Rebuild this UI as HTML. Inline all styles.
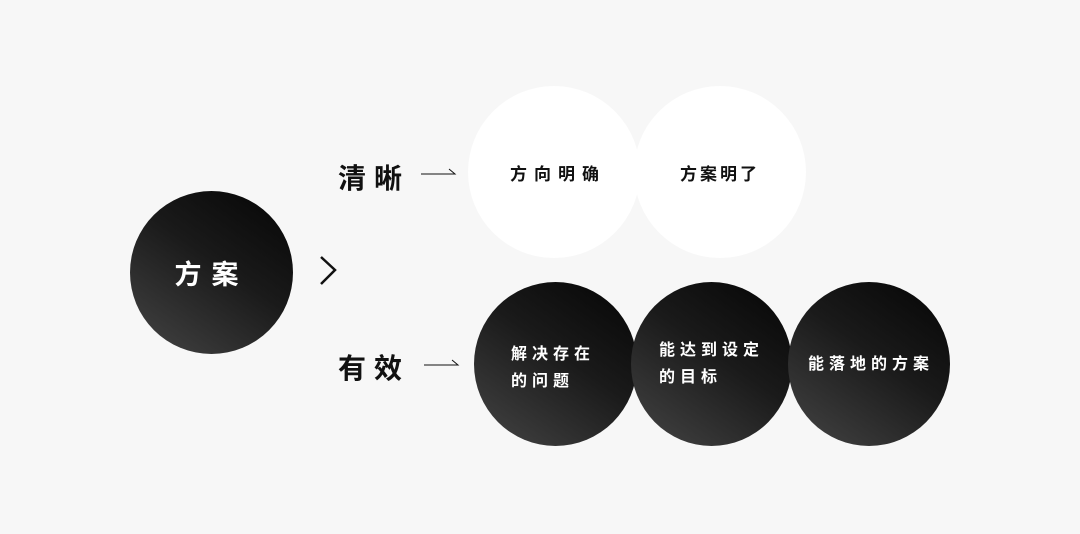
<!DOCTYPE html>
<html><head><meta charset="utf-8"><style>
body{margin:0;width:1080px;height:534px;background:#f7f7f7;position:relative;overflow:hidden;font-family:"Liberation Sans","Noto Sans CJK SC",sans-serif}
.c{position:absolute;border-radius:50%;display:flex;align-items:center;justify-content:center;text-align:center}
.b{background:linear-gradient(215deg,#050505 0%,#1a1a1a 45%,#454545 100%);color:#fff;font-weight:bold;font-size:16px;letter-spacing:5px;line-height:27px}
.w{background:#fff;color:#111;font-weight:bold;font-size:17px;letter-spacing:7px}
.t{position:absolute;font-weight:bold;font-size:28px;letter-spacing:8px;color:#111}
</style></head><body>
<div class="c b" style="left:130px;top:191px;width:163px;height:163px;font-size:27px;letter-spacing:10px;padding-top:6px;box-sizing:border-box">方案</div>
<svg style="position:absolute;left:318px;top:254px" width="22" height="34"><polyline points="3,3 17,16 3,30" fill="none" stroke="#111" stroke-width="2.5"/></svg>
<div class="t" style="left:338px;top:157px">清晰</div>
<div class="t" style="left:338px;top:347px">有效</div>
<svg style="position:absolute;left:420px;top:166px" width="40" height="12"><polyline points="1,8 35,8 29,3" fill="none" stroke="#111" stroke-width="1"/></svg>
<div class="c w" style="left:468px;top:86px;width:172px;height:172px;padding-left:8px;box-sizing:border-box">方向明确</div>
<div class="c w" style="left:634px;top:86px;width:172px;height:172px;letter-spacing:3px">方案明了</div>
<svg style="position:absolute;left:423px;top:357px" width="40" height="12"><polyline points="1,8 35,8 29,3" fill="none" stroke="#111" stroke-width="1"/></svg>
<div class="c b" style="left:474px;top:282px;width:163px;height:164px;text-align:left;justify-content:flex-start;padding-left:37px;padding-top:8px;box-sizing:border-box">解决存在<br>的问题</div>
<div class="c b" style="left:631px;top:282px;width:161px;height:164px;text-align:left;justify-content:flex-start;padding-left:28px;box-sizing:border-box;padding-bottom:0px">能达到设定<br>的目标</div>
<div class="c b" style="left:788px;top:282px;width:162px;height:164px;padding-left:4px;box-sizing:border-box">能落地的方案</div>
</body></html>
